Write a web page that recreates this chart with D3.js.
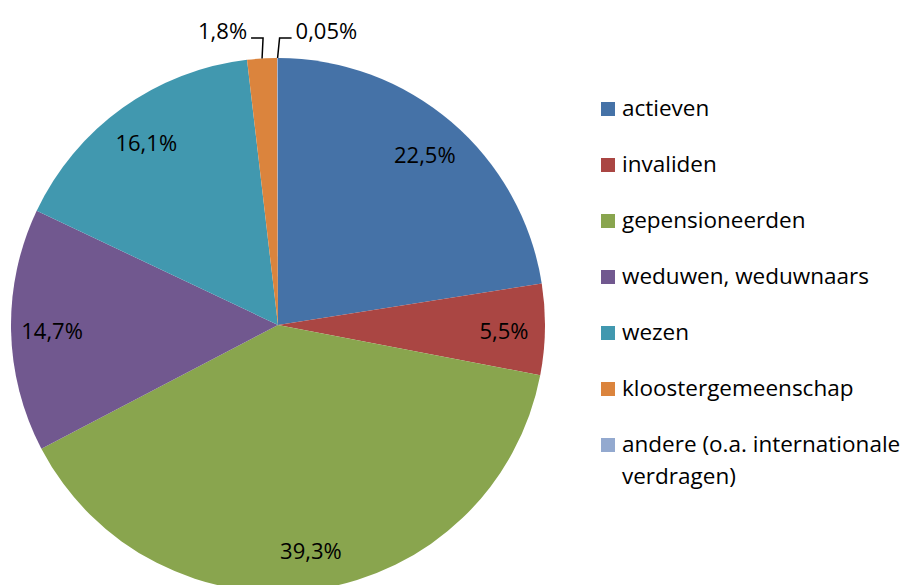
<!DOCTYPE html>
<html><head><meta charset="utf-8">
<script src="https://cdn.jsdelivr.net/npm/d3@7"></script>
<style>body{margin:0;background:#fff}svg{display:block}text{font-family:"Open Sans",sans-serif;fill:#000}</style>
</head><body>
<svg id="c" width="901" height="585"></svg>
<script>
const categories = ["actieven","invaliden","gepensioneerden","weduwen, weduwnaars","wezen","kloostergemeenschap","andere (o.a. internationale verdragen)"];
const values = [22.5, 5.5, 39.3, 14.7, 16.1, 1.8, 0.05];
const labels = ["22,5%","5,5%","39,3%","14,7%","16,1%","1,8%","0,05%"];
const colors = ["#4572A7","#AA4643","#89A54E","#71588F","#4198AF","#DB843D","#93A9CF"];
const legendLines = [["actieven"],["invaliden"],["gepensioneerden"],["weduwen, weduwnaars"],["wezen"],["kloostergemeenschap"],["andere (o.a. internationale","verdragen)"]];

const svg = d3.select("#c");
const cx = 278, cy = 325, R = 267;
const g = svg.append("g").attr("transform", `translate(${cx},${cy})`);
const pie = d3.pie().sort(null).value(d => d);
const arcs = pie(values);
const arc = d3.arc().innerRadius(0).outerRadius(R);
const labelArc = d3.arc().innerRadius(226).outerRadius(226);

g.selectAll("path.s").data(arcs).join("path").attr("class","s")
  .attr("d", arc).attr("fill", (d,i) => colors[i]);

const FS = 22;
arcs.forEach((d,i) => {
  if (i >= 5) return;
  const [x,y] = labelArc.centroid(d);
  g.append("text").attr("x", x).attr("y", y + 2).attr("dy","0.36em")
    .attr("text-anchor","middle").style("font-size", FS+"px").text(labels[i]);
});
const topY = 38 - cy;
[5,6].forEach(i => {
  const d = arcs[i];
  const a = (d.startAngle + d.endAngle)/2;
  const x0 = R*Math.sin(a), y0 = -R*Math.cos(a);
  const dir = i === 5 ? -1 : 1;
  const ex = x0 + dir*(i===5 ? -1 : 2);
  const pts = [[x0,y0],[ex,topY],[ex + dir*12, topY]];
  g.append("path").attr("d", d3.line()(pts)).attr("fill","none")
    .attr("stroke","#000").attr("stroke-width",1.5);
  g.append("text").attr("x", ex + dir*16).attr("y", 31 - cy).attr("dy","0.36em")
    .attr("text-anchor", dir < 0 ? "end" : "start").style("font-size", FS+"px").text(labels[i]);
});

const ly = d3.scaleLinear().domain([0,1]).range([116,172]);
const lg = svg.append("g");
legendLines.forEach((lines,i) => {
  const b = ly(i);
  lg.append("rect").attr("x",601).attr("y",b-14).attr("width",14).attr("height",14).attr("fill",colors[i]);
  const t = lg.append("text").attr("x",622).attr("y",b).style("font-size","22.5px");
  lines.forEach((ln,j) => t.append("tspan").attr("x",622).attr("dy", j===0?0:32).text(ln));
});
</script>
</body></html>
